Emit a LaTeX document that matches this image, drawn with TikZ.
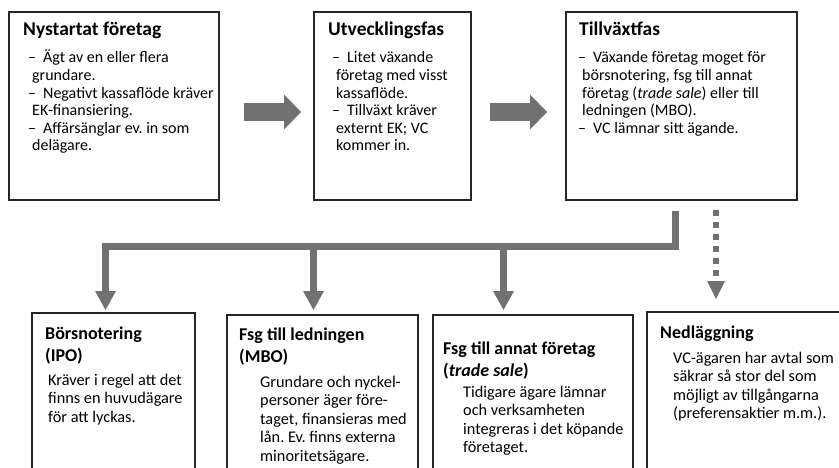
\documentclass[tikz,border=0pt]{standalone}
\usepackage{fontspec}
\setmainfont{Carlito}
\usetikzlibrary{arrows.meta,positioning,calc}
\definecolor{flowgray}{RGB}{112,113,115}
\newcommand{\dashitem}{\makebox[15pt][l]{–}}
\newcommand{\boxtext}[1]{\parbox[t]{260pt}{\raggedright #1}}
\frenchspacing

\begin{document}
\begin{tikzpicture}[x=1pt, y=-1pt,
    phase/.style={draw=black!85, line width=1.5pt, inner sep=0pt, outer sep=0pt},
    headline/.style={anchor=base west, inner sep=0pt, font=\bfseries\fontsize{19.5}{23}\selectfont},
    subline/.style={anchor=base west, inner sep=0pt, font=\bfseries\fontsize{18}{22.5}\selectfont},
    topbody/.style={anchor=base west, inner sep=0pt, font=\fontsize{16}{17.6}\selectfont},
    lowbody/.style={anchor=base west, inner sep=0pt, font=\fontsize{16.3}{18.5}\selectfont},
    blockarrow/.style={flowgray, line width=18pt, -{Triangle[length=17pt, width=35pt, line width=0pt]}},
    tree/.style={flowgray, line width=7pt, -{Triangle[length=19pt, width=21pt, line width=0pt]}},
    dashtree/.style={flowgray, line width=5.5pt, dash pattern=on 6pt off 6pt, -{Triangle[length=18pt, width=18pt, line width=0pt]}}]
  \useasboundingbox (0,0) rectangle (839,468);
  \clip (0,0) rectangle (839,468);

  % phases
  \node[phase, minimum width=210pt, minimum height=188pt] (nystart) at (114,106) {};
  \node[phase, minimum width=157pt, minimum height=188pt] (utveckling) at (392.5,106) {};
  \node[phase, minimum width=231pt, minimum height=188pt] (tillvaxt) at (681.5,106) {};

  \node[headline] (nystart-t) at (23,36) {Nystartat företag};
  \node[topbody] (nystart-b) at (28,63) {\boxtext{\dashitem Ägt av en eller flera\\
    \hspace*{4pt}grundare.\\
    \dashitem Negativt kassaflöde kräver\\
    \hspace*{4pt}EK-finansiering.\\
    \dashitem Affärsänglar ev. in som\\
    \hspace*{4pt}delägare.}};

  \node[headline] (utveckling-t) at (328,36) {Utvecklingsfas};
  \node[topbody] (utveckling-b) at (332,63) {\boxtext{\dashitem Litet växande\\
    \hspace*{4pt}företag med visst\\
    \hspace*{4pt}kassaflöde.\\
    \dashitem Tillväxt kräver\\
    \hspace*{4pt}externt EK; VC\\
    \hspace*{4pt}kommer in.}};

  \node[headline] (tillvaxt-t) at (579,36) {Tillväxtfas};
  \node[topbody] (tillvaxt-b) at (578,63) {\boxtext{\dashitem Växande företag moget för\\
    \hspace*{4pt}börsnotering, fsg till annat\\
    \hspace*{4pt}företag (\textit{trade sale}) eller till\\
    \hspace*{4pt}ledningen (MBO).\\
    \dashitem VC lämnar sitt ägande.}};

  % exits (cut at the bottom)
  \node[phase, minimum width=163pt, minimum height=167pt] (ipo) at (113.5,396.5) {};
  \node[phase, minimum width=191pt, minimum height=165pt] (mbo) at (322.5,397.5) {};
  \node[phase, minimum width=200pt, minimum height=165pt] (tradesale) at (533,397.5) {};
  \node[phase, minimum width=198pt, minimum height=168pt] (nedlagg) at (746,396) {};

  \node[subline] (ipo-t) at (45,339) {\boxtext{Börsnotering\\(IPO)}};
  \node[lowbody] (ipo-b) at (48,385) {\boxtext{Kräver i regel att det\\
    finns en huvudägare\\
    för att lyckas.}};

  \node[subline] (mbo-t) at (239,340) {\boxtext{Fsg till ledningen\\(MBO)}};
  \node[lowbody] (mbo-b) at (260,387) {\boxtext{Grundare och nyckel-\\
    personer äger före-\\
    taget, finansieras med\\
    lån. Ev. finns externa\\
    minoritetsägare.}};

  \node[subline] (tradesale-t) at (443,354) {\boxtext{Fsg till annat företag\\(\textit{trade sale})}};
  \node[lowbody] (tradesale-b) at (463,397) {\boxtext{Tidigare ägare lämnar\\
    och verksamheten\\
    integreras i det köpande\\
    företaget.}};

  \node[subline] (nedlagg-t) at (660,338) {Nedläggning};
  \node[lowbody] (nedlagg-b) at (673,363) {\boxtext{VC-ägaren har avtal som\\
    säkrar så stor del som\\
    möjligt av tillgångarna\\
    (preferensaktier m.m.).}};

  % arrows between phases
  \draw[blockarrow] ([xshift=25pt,yshift=-6pt]nystart.east) -- ([xshift=-13pt,yshift=-6pt]utveckling.west);
  \draw[blockarrow] ([xshift=19pt,yshift=-6pt]utveckling.east) -- ([xshift=-19pt,yshift=-6pt]tillvaxt.west);

  % exit tree
  \coordinate (split) at (0,247);
  \coordinate (stem) at ([xshift=-6.5pt]tillvaxt.south);
  \coordinate (mbo-in) at ([xshift=-9pt,yshift=5pt]mbo.north);
  \coordinate (tradesale-in) at ([xshift=-29.5pt,yshift=5pt]tradesale.north);
  \draw[tree] ([yshift=-11pt]stem) -- (stem |- split) -| ([xshift=-8pt,yshift=3pt]ipo.north);
  \draw[tree] (mbo-in |- split) -- (mbo-in);
  \draw[tree] (tradesale-in |- split) -- (tradesale-in);

  % liquidation, dashed
  \coordinate (drop) at ([xshift=-30pt,yshift=13pt]nedlagg.north);
  \coordinate (drop-top) at (drop |- tillvaxt.south);
  \draw[dashtree] ([yshift=-10pt]drop-top) -- (drop);
\end{tikzpicture}
\end{document}
